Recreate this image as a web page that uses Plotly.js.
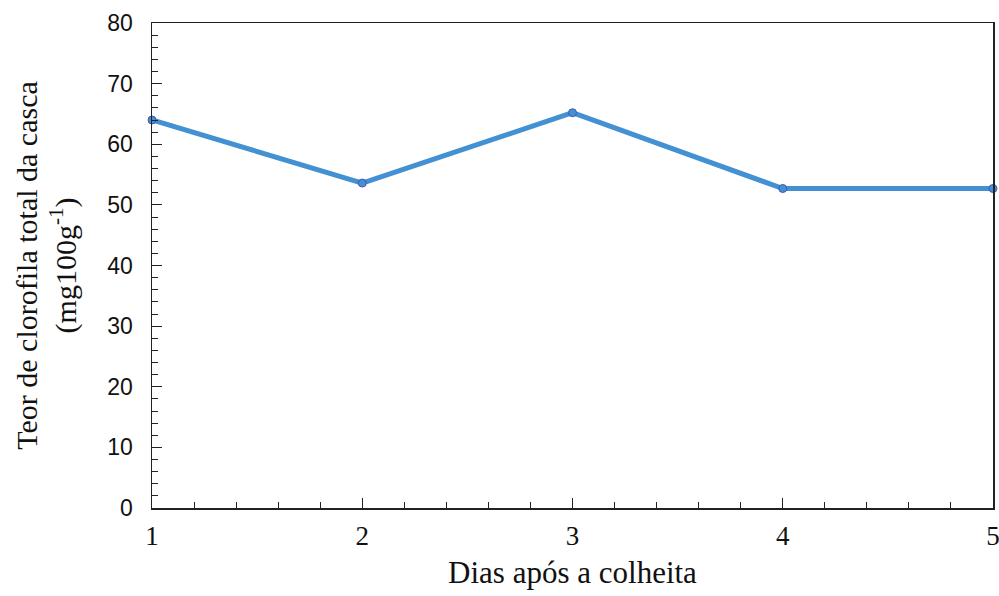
<!DOCTYPE html>
<html>
<head>
<meta charset="utf-8">
<script src="https://cdn.plot.ly/plotly-3.0.1.min.js"></script>
<style>html,body{margin:0;padding:0;background:#fff;}#chart{width:999px;height:596px;}</style>
</head>
<body>
<div id="chart"></div>
<script>
const dias = [1, 2, 3, 4, 5];
const clorofila = [64.0, 53.6, 65.2, 52.7, 52.7];
const xTicks = [1, 2, 3, 4, 5];
const yTicks = [0, 10, 20, 30, 40, 50, 60, 70, 80];

const trace = {
  x: dias, y: clorofila, type: 'scatter', mode: 'lines+markers',
  line: {color: '#4390d2', width: 5},
  marker: {size: 8, color: '#4390d2', line: {color: '#4a55b0', width: 1}},
  cliponaxis: false, hoverinfo: 'none'
};

const serif = 'Liberation Serif, Times New Roman, serif';

const layout = {
  width: 999, height: 596,
  margin: {l: 152, r: 6, t: 23, b: 88},
  paper_bgcolor: '#fff', plot_bgcolor: '#fff',
  showlegend: false,
  xaxis: {
    range: [1, 5], tickvals: xTicks, ticktext: xTicks.map(String),
    ticks: 'inside', ticklen: 10, tickwidth: 1, tickcolor: '#222',
    minor: {dtick: 0.2, ticks: 'inside', ticklen: 6, tickcolor: '#222', showgrid: false},
    showline: true, linecolor: '#222', linewidth: 1.5, mirror: true,
    showgrid: false, zeroline: false,
    tickfont: {family: serif, size: 27, color: '#111'},
    ticklabelstandoff: 3,
    ticklabeloverflow: 'allow',
    title: {text: 'Dias após a colheita', font: {family: serif, size: 31, color: '#111'}, standoff: 11}
  },
  yaxis: {
    range: [0, 80], tickvals: yTicks,
    ticks: 'inside', ticklen: 10, tickwidth: 1, tickcolor: '#222',
    minor: {dtick: 2, ticks: 'inside', ticklen: 6, tickcolor: '#222', showgrid: false},
    showline: true, linecolor: '#222', linewidth: 1.5, mirror: true,
    showgrid: false, zeroline: false,
    tickfont: {family: 'Liberation Sans, Arial, sans-serif', size: 23, color: '#111'},
    ticklabelstandoff: 13,
    ticklabeloverflow: 'allow',
    title: {text: 'Teor de clorofila total da casca<br>(mg100g<sup>-1</sup>)', font: {family: serif, size: 30, color: '#111'}, standoff: 22}
  }
};

Plotly.newPlot('chart', [trace], layout, {staticPlot: true, displayModeBar: false});
</script>
</body>
</html>
